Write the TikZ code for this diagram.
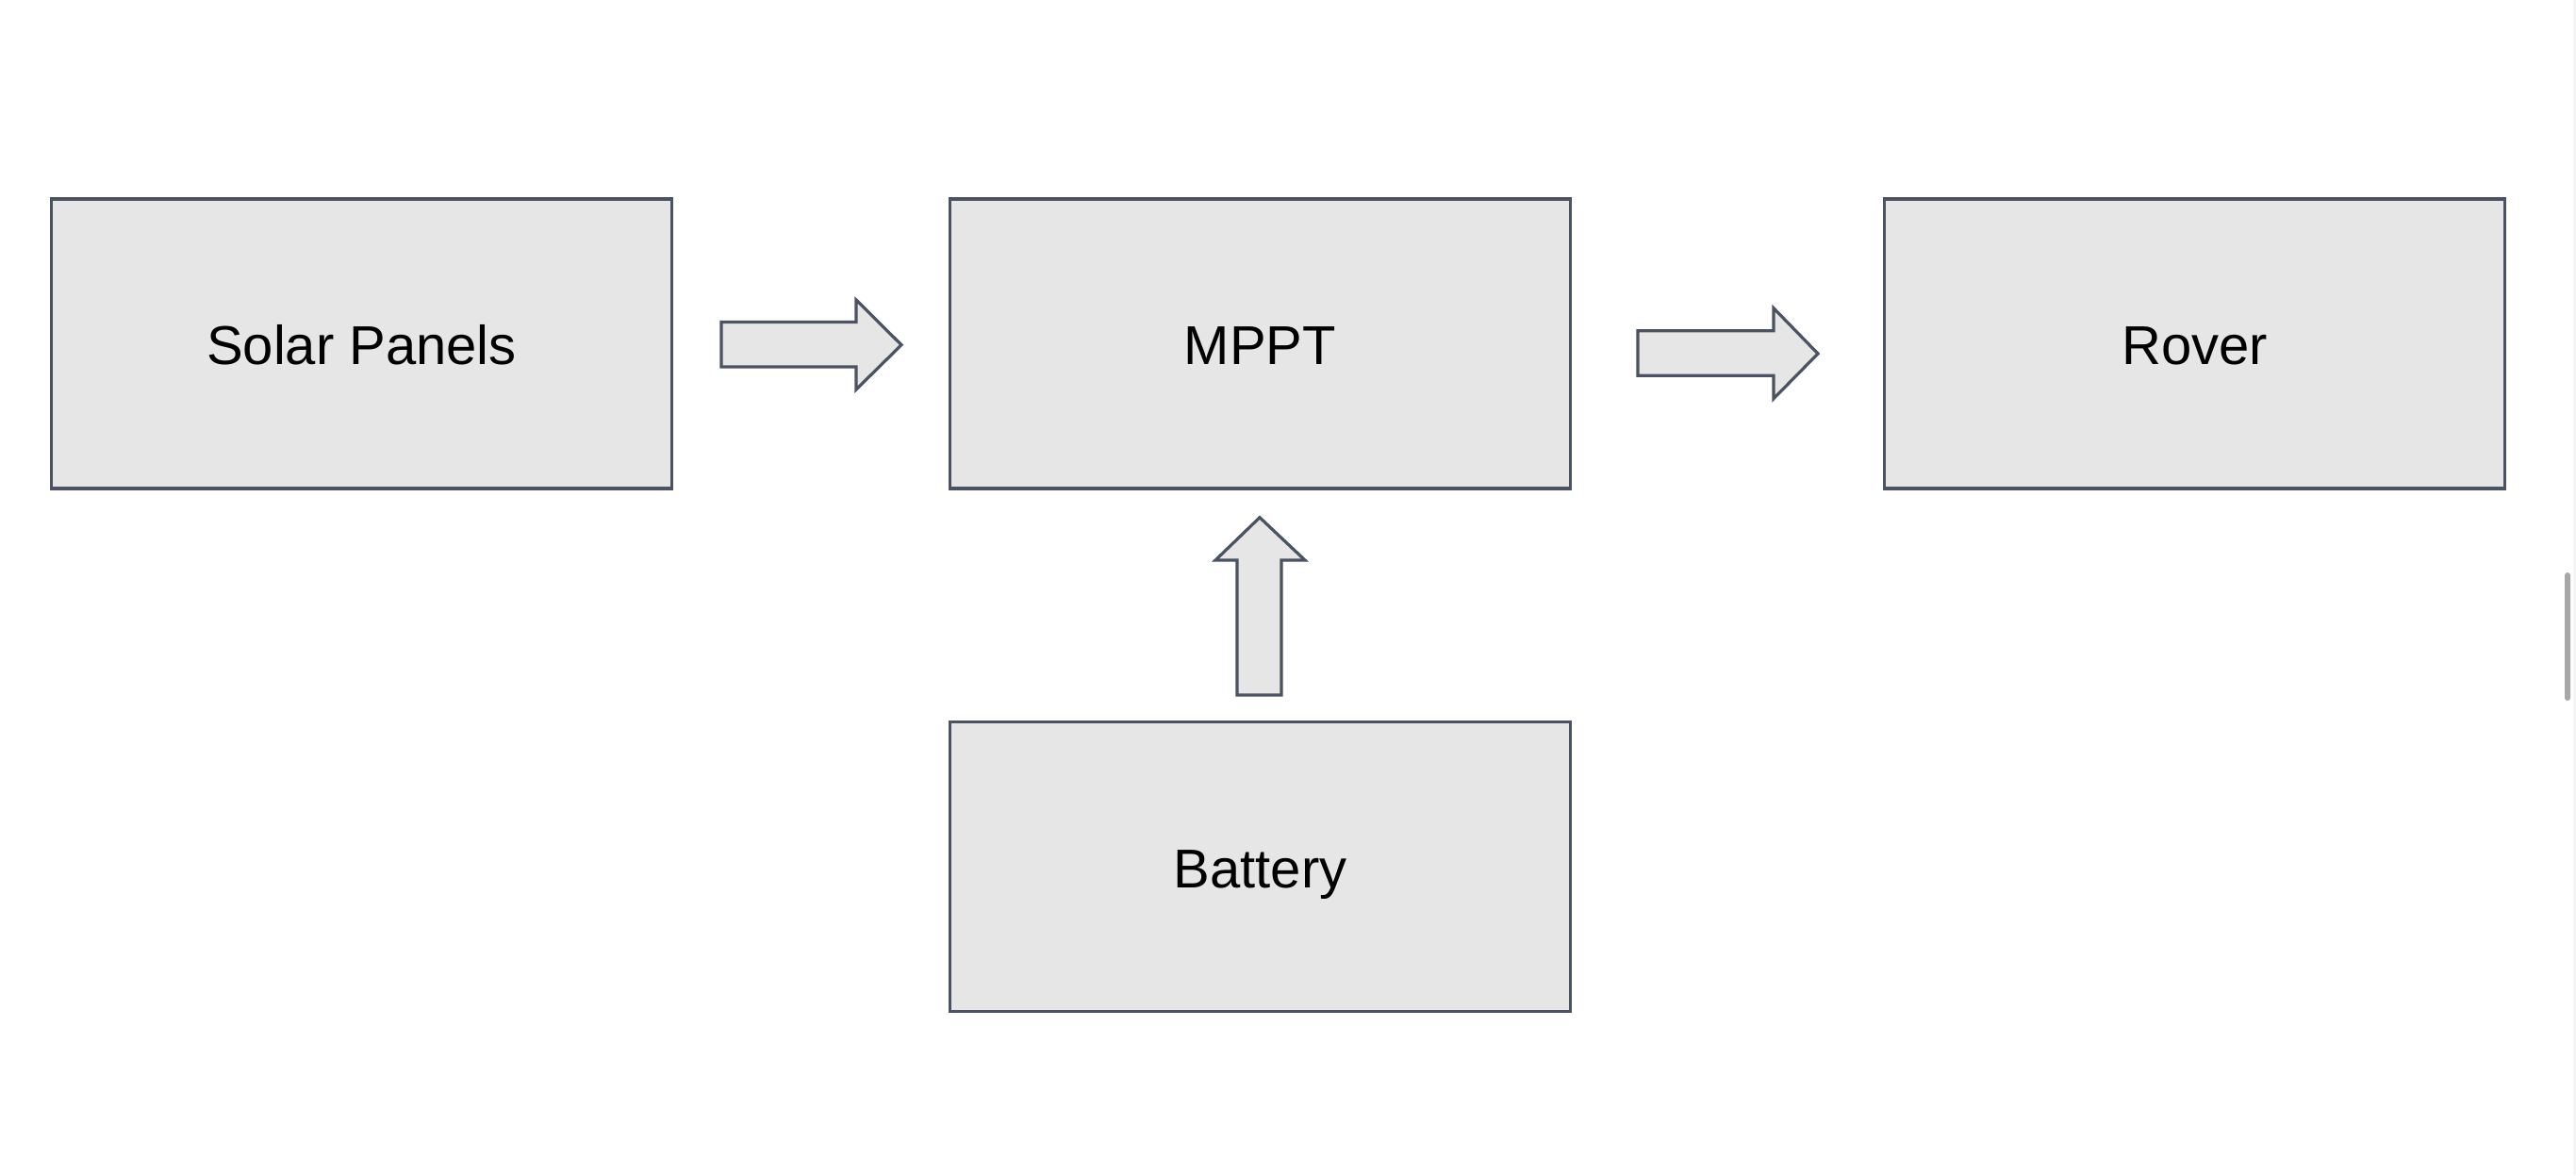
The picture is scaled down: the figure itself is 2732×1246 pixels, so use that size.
\documentclass[tikz,border=0pt]{standalone}
\usepackage{fontspec}
\setmainfont{Liberation Sans}
\begin{document}
\begin{tikzpicture}[x=0.25pt,y=-0.25pt,
  blk/.style={draw=lineC,fill=fillC,line width=0.8pt,rectangle,inner sep=0pt,
    minimum width=658*0.25pt,minimum height=307*0.25pt,text height=11.2pt,text depth=0pt,
    font=\fontsize{14.5}{17}\selectfont},
  barrow/.style={draw=lineC,fill=fillC,line width=0.8pt,line join=miter}]
\definecolor{lineC}{HTML}{4A5263}
\definecolor{fillC}{HTML}{E6E6E6}
\useasboundingbox (0,0) rectangle (2732,1246);
\fill[white] (0,0) rectangle (2732,1246);
\node[blk] (solar) at (383.5,364.5) {Solar Panels};
\node[blk] (mppt) at (1336.5,364.5) {MPPT};
\node[blk] (rover) at (2327.5,364.5) {Rover};
\node[blk] (battery) at (1336.5,919) {Battery};
% block arrows
\draw[barrow] (765,341.5) -- (908,341.5) -- (908,318) -- (956,365.7) -- (908,413) -- (908,389) -- (765,389) -- cycle;
\draw[barrow] (1737,350.7) -- (1881,350.7) -- (1881,326.7) -- (1928,375) -- (1881,422.7) -- (1881,398.3) -- (1737,398.3) -- cycle;
\draw[barrow] (1312,737) -- (1312,594) -- (1289,594) -- (1336,548.7) -- (1384,594) -- (1359,594) -- (1359,737) -- cycle;
% scrollbar
\fill[black!4] (2729,0) rectangle (2732,1246);
\fill[black!34,rounded corners=3*0.25pt] (2720,607) rectangle (2726,743);
\end{tikzpicture}
\end{document}
